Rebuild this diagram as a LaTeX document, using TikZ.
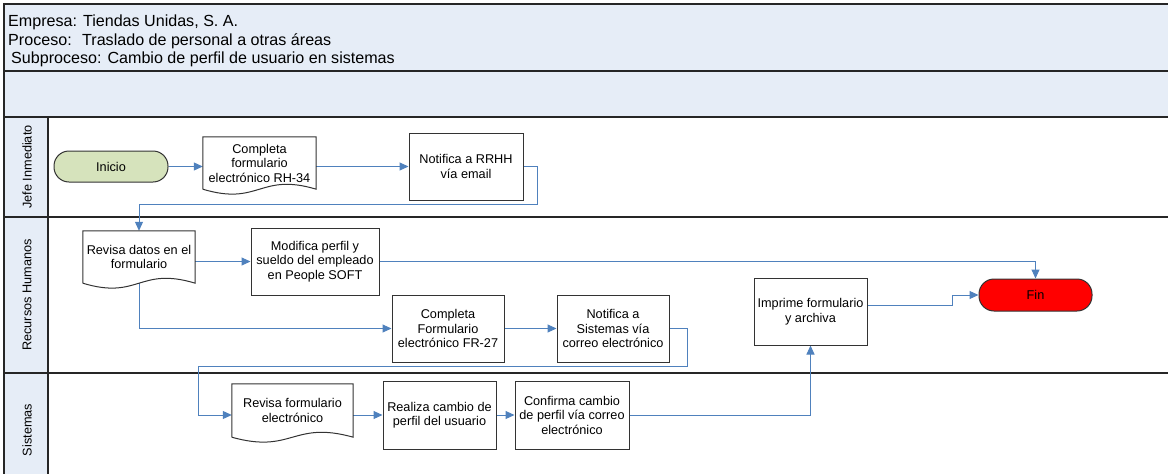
\documentclass[tikz,border=0pt]{standalone}
\usepackage{fontspec}
\setmainfont{Liberation Sans}
\usetikzlibrary{arrows.meta,calc}
\pgfdeclarelayer{lanelayer}
\pgfdeclarelayer{edgelayer}
\pgfdeclarelayer{nodelayer}
\pgfsetlayers{lanelayer,edgelayer,nodelayer,main}
\definecolor{lanefill}{RGB}{230,237,247}
\definecolor{flowblue}{RGB}{79,129,189}
\definecolor{iniciogreen}{RGB}{214,227,188}
\definecolor{finred}{RGB}{255,0,0}
\tikzset{font=\fontsize{12.7}{14.5}\selectfont}
\tikzstyle{none}=[inner sep=0pt]
\tikzstyle{lane}=[draw=black!85,line width=1.3pt]
\tikzstyle{title}=[inner sep=0pt,anchor=base west,font=\fontsize{16.1}{19}\selectfont]
\tikzstyle{lanename}=[inner sep=0pt,rotate=90]
\tikzstyle{proc}=[draw=black!80,line width=1pt,fill=white,align=center,inner sep=0pt,minimum width=113pt,minimum height=67pt]
\tikzstyle{docu}=[align=center,inner sep=0pt,minimum width=113pt,minimum height=52pt]
\tikzstyle{docline}=[draw=black!80,line width=1pt]
\tikzstyle{term}=[draw=black!80,line width=1pt,rounded corners=15pt,minimum width=114pt,minimum height=31pt,inner sep=0pt]
\tikzstyle{flow}=[draw=flowblue,line width=1pt]
\tikzstyle{arr}=[flow,-{Triangle[length=9pt,width=8pt]}]

\begin{document}
\begin{tikzpicture}[x=1pt,y=-1pt]
	\useasboundingbox (0,0) rectangle (1168,474);
	\begin{pgfonlayer}{lanelayer}
		\fill [lanefill] (4,4) rectangle (1168,117);
		\fill [lanefill] (4,117) rectangle (48,474);
		\draw [style=lane] (1168,4) -- (4,4) -- (4,474);
		\draw [style=lane] (4,71) -- (1168,71);
		\foreach \y in {117,217,373}
			\draw [style=lane] (4,\y) -- (1168,\y);
		\draw [style=lane] (48,117) -- (48,474);
	\end{pgfonlayer}
	\begin{pgfonlayer}{nodelayer}
		\node [style=term, fill=iniciogreen] (0) at (111,166.5) {Inicio};
		\node [style=docu] (1) at (259.5,163) {Completa\\formulario\\electrónico RH-34};
		\node [style=proc, minimum width=114pt] (2) at (466,166.5) {Notifica a RRHH\\vía email};
		\node [style=docu, minimum width=112pt] (3) at (139,257) {Revisa datos en el\\formulario};
		\node [style=proc, minimum width=128pt] (4) at (315,261.5) {Modifica perfil y\\sueldo del empleado\\en People SOFT};
		\node [style=proc, minimum width=112pt] (5) at (448,328.5) {Completa\\Formulario\\electrónico FR-27};
		\node [style=proc, minimum width=112pt] (6) at (613,328.5) {Notifica a\\Sistemas vía\\correo electrónico};
		\node [style=proc] (7) at (810.5,311.5) {Imprime formulario\\y archiva};
		\node [style=term, fill=finred, minimum width=113pt, minimum height=32pt] (8) at (1035.5,295) {Fin};
		\node [style=docu, minimum width=121pt, minimum height=53pt] (9) at (292.5,410.5) {Revisa formulario\\electrónico};
		\node [style=proc, minimum height=68pt] (10) at (439.5,415) {Realiza cambio de\\perfil del usuario};
		\node [style=proc, minimum width=114pt, minimum height=68pt] (11) at (572,415) {Confirma cambio\\de perfil vía correo\\electrónico};
		\node [style=none] (12) at (537,204) {};
		\node [style=none] (13) at (687,366) {};
		\node [style=none] (14) at (198,415) {};
		\node [style=none] (15) at (952,305) {};
		\node [style=lanename] (16) at (27,167) {Jefe Inmediato};
		\node [style=lanename] (17) at (27,295) {Recursos Humanos};
		\node [style=lanename] (18) at (27,430) {Sistemas};
		\node [style=title] (19) at (8,26) {Empresa: Tiendas Unidas, S. A.};
		\node [style=title] (20) at (8,45) {Proceso:~ Traslado de personal a otras áreas};
		\node [style=title] (21) at (11,63) {Subproceso: Cambio de perfil de usuario en sistemas};
		\foreach \k in {1,3,9}
			\draw [style=docline] (\k.south west) -- (\k.north west) -- (\k.north east) -- (\k.south east)
				.. controls ($(\k.south)+(0,-17)$) and ($(\k.south)+(0,17)$) .. (\k.south west);
	\end{pgfonlayer}
	\begin{pgfonlayer}{edgelayer}
		\draw [style=arr] (0) to (0 -| 1.west);
		\draw [style=arr] (2.west -| 1.east) to (2.west);
		\draw [style=arr] (2.east) -| (12.center) -| (3.north);
		\draw [style=arr] (4.west -| 3.east) to (4.west);
		\draw [style=arr] (4.east) -| (8.north);
		\draw [style=arr] (3.south) |- (5.west);
		\draw [style=arr] (5.east) to (6.west);
		\draw [style=arr] (6.east) -| (13.center) -| (14.center) to (14.center -| 9.west);
		\draw [style=arr] (10.west -| 9.east) to (10.west);
		\draw [style=arr] (10.east) to (11.west);
		\draw [style=arr] (11.east) -| (7.south);
		\draw [style=arr] (7.east |- 15.center) to (15.center) |- (8.west);
	\end{pgfonlayer}
\end{tikzpicture}
\end{document}
